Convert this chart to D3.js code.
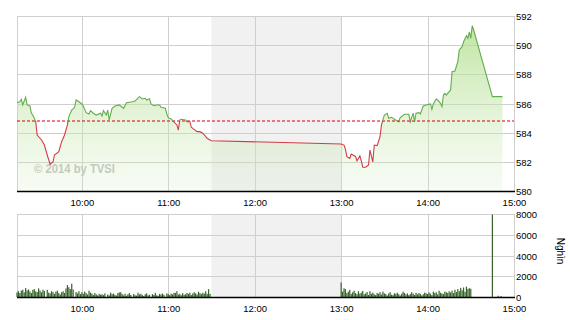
<!DOCTYPE html>
<html>
<head>
<meta charset="utf-8">
<script src="https://cdn.jsdelivr.net/npm/d3@7"></script>
<style>
  body { margin: 0; background: #fff; }
  svg text { font-family: 'Liberation Sans', Arial, sans-serif; fill: #000; }
</style>
</head>
<body>
<script>
// intraday index, 1 point per visible turn of the line
const priceTimes = ['9:15','9:17','9:18','9:19','9:21','9:22','9:24','9:25','9:26','9:28','9:29','9:32','9:34','9:36','9:38','9:40','9:41','9:44','9:46','9:48','9:50','9:51','9:53','9:55','9:56','9:58',
  '10:00','10:01','10:03','10:05','10:06','10:08','10:10','10:13','10:14','10:15','10:17','10:18','10:19','10:21','10:23','10:26','10:29','10:31','10:35','10:37','10:38','10:40','10:42','10:44','10:45','10:47','10:48','10:50','10:52','10:54','10:55','10:58','10:59',
  '11:00','11:02','11:03','11:06','11:07','11:08','11:09','11:12','11:13','11:15','11:16','11:17','11:20','11:22','11:24','11:27','11:29','11:30',
  '13:00','13:02','13:03','13:04','13:06','13:07','13:10','13:11','13:13','13:14','13:15','13:17','13:19','13:20','13:22','13:23','13:25','13:27','13:28','13:30','13:32','13:33','13:35','13:37','13:40','13:41','13:44','13:47','13:48','13:50','13:51','13:52','13:54','13:55','13:57','13:59',
  '14:02','14:03','14:04','14:06','14:07','14:09','14:10','14:11','14:12','14:13','14:16','14:17','14:19','14:21','14:22','14:24','14:25','14:27','14:28','14:29','14:30','14:31','14:32','14:45','14:52']
const priceValues = [586.05,586.12,586.29,585.9,586.43,585.9,585.83,585.33,585.21,584.75,583.84,583.5,583.15,582.47,581.83,582.0,582.47,582.7,583.38,583.84,584.53,585.1,585.55,585.74,586.24,586.12,
  585.97,585.83,585.37,585.28,585.51,585.33,585.21,585.33,585.14,585.51,585.21,585.55,584.87,585.67,585.83,585.9,585.67,586.05,586.12,586.17,586.29,586.47,586.31,586.36,586.24,586.33,585.97,585.85,585.9,585.9,585.74,585.67,585.28,
  585.03,584.94,584.82,584.53,584.18,584.87,584.92,584.87,584.75,584.75,584.37,584.29,584.07,584.07,583.96,583.61,583.5,583.45,
  583.22,583.15,582.86,582.35,582.24,582.54,582.37,582.06,582.4,582.06,581.63,581.63,581.78,582.81,581.99,583.15,583.11,583.72,584.53,585.21,585.33,584.98,585.05,584.92,584.75,585.03,585.26,585.26,584.75,585.33,584.75,585.33,585.37,585.28,585.83,585.9,
  585.97,585.6,585.97,586.31,586.24,586.01,585.78,586.58,586.7,586.58,586.93,588.18,588.23,588.87,589.67,589.9,590.24,590.65,590.47,590.92,590.47,591.33,591.04,586.47,586.47]
const refPrice = 584.8
const priceTicks = [580, 582, 584, 586, 588, 590, 592]

const hourTicks = ['10:00', '11:00', '12:00', '13:00', '14:00', '15:00']
const sessionStart = '9:15'
const sessionEnd = '15:00'
const lunchStart = '11:30'
const lunchEnd = '13:00'

// volume, one bar per minute (thousand shares)
const volMorningStart = '9:15'
const volMorning = [420,560,380,610,700,450,860,640,720,530,380,690,760,540,480,
  830,620,450,710,580,0,690,420,350,560,470,300,520,610,380,
  250,470,560,390,820,1150,940,760,1280,720,0,480,350,560,280,
  460,310,520,380,240,600,420,330,190,380,260,150,310,220,270,
  180,350,0,240,160,420,280,330,210,140,380,440,460,290,150,
  320,120,260,380,200,0,290,170,140,420,250,310,180,100,260,
  350,150,220,0,280,190,400,160,120,300,240,330,210,0,340,
  280,180,330,250,410,390,560,240,310,180,370,220,260,390,300,
  420,190,330,460,350,240,510,380,280,420,330,560,300,750,300]
const volAfternoonStart = '13:00'
const volAfternoon = [1400,520,840,760,380,520,690,300,450,610,380,270,560,330,420,
  590,260,340,480,200,550,310,420,260,180,390,300,470,240,520,
  350,280,140,330,460,220,180,370,300,420,260,150,320,510,390,
  240,350,180,280,460,330,200,410,260,380,300,150,270,420,360,
  290,440,330,180,520,380,460,250,600,410,340,280,520,460,390,
  550,430,620,380,700,480,760,560,880,640,920,500,1000,780,840,800]
const volLateTimes = ['14:45', '14:49', '14:51']
const volLate = [7950, 120, 100]
const volTicks = [0, 2000, 4000, 6000, 8000]
const volUnit = 'Nghìn'
const watermark = '© 2014 by TVSI'

class IntradayChart {

  initialize() {
    const parse = d3.timeParse('%H:%M')

    this.left = 17
    this.right = 514
    this.top = { y0: 16, y1: 191 }
    this.bottom = { y0: 214, y1: 297 }

    const prices = priceTimes.map((t, i) => ({ time: parse(t), value: priceValues[i] }))

    const minutes = (start, list) => list.map((v, i) => ({ time: d3.timeMinute.offset(parse(start), i), value: v }))
    const volumes = minutes(volMorningStart, volMorning)
      .concat(minutes(volAfternoonStart, volAfternoon))
      .concat(volLateTimes.map((t, i) => ({ time: parse(t), value: volLate[i] })))

    this.x = d3.scaleTime()
      .domain([parse(sessionStart), parse(sessionEnd)])
      .range([this.left, this.right])

    this.yP = d3.scaleLinear()
      .domain(d3.extent(priceTicks))
      .range([this.top.y1, this.top.y0])

    this.yV = d3.scaleLinear()
      .domain(d3.extent(volTicks))
      .range([this.bottom.y1, this.bottom.y0])

    const svg = d3.select('body')
      .append('svg')
      .attr('width', 570)
      .attr('height', 320)

    const defs = svg.append('defs')
    const grad = defs.append('linearGradient')
      .attr('id', 'fillGrad')
      .attr('gradientUnits', 'userSpaceOnUse')
      .attr('x1', 0).attr('x2', 0)
      .attr('y1', this.top.y0).attr('y2', this.top.y1)
    grad.append('stop').attr('offset', 0).attr('stop-color', 'rgb(172,220,132)').attr('stop-opacity', 0.8)
    grad.append('stop').attr('offset', 1).attr('stop-color', 'rgb(215,238,200)').attr('stop-opacity', 0.2)

    const refY = this.yP(refPrice)
    defs.append('clipPath').attr('id', 'clipUp')
      .append('rect')
      .attr('x', this.left).attr('width', this.right - this.left)
      .attr('y', 0).attr('height', refY)
    defs.append('clipPath').attr('id', 'clipDown')
      .append('rect')
      .attr('x', this.left).attr('width', this.right - this.left)
      .attr('y', refY).attr('height', 320 - refY)

    const px = v => Math.round(v) + 0.5

    // lunch break shading in both panels
    const lx0 = this.x(parse(lunchStart)), lx1 = this.x(parse(lunchEnd))
    ;[this.top, this.bottom].forEach(p => {
      svg.append('rect')
        .attr('x', lx0).attr('y', p.y0)
        .attr('width', lx1 - lx0).attr('height', p.y1 - p.y0)
        .style('fill', '#f1f1f1')
    })

    // grids
    const hours = hourTicks.map(parse)
    const grid = svg.append('g').style('stroke', '#cfcfcf').style('stroke-width', 1)
    ;[this.top, this.bottom].forEach(p => {
      grid.selectAll(null)
        .data([parse(sessionStart)].concat(hours))
        .enter().append('line')
        .attr('x1', d => px(this.x(d))).attr('x2', d => px(this.x(d)))
        .attr('y1', p.y0).attr('y2', p.y1)
    })
    grid.selectAll(null)
      .data(priceTicks.slice(1))
      .enter().append('line')
      .attr('x1', this.left).attr('x2', this.right + 1)
      .attr('y1', d => px(this.yP(d))).attr('y2', d => px(this.yP(d)))
    grid.selectAll(null)
      .data(volTicks.slice(1))
      .enter().append('line')
      .attr('x1', this.left).attr('x2', this.right + 1)
      .attr('y1', d => px(this.yV(d))).attr('y2', d => px(this.yV(d)))

    svg.append('text')
      .attr('x', 34)
      .attr('y', 168)
      .attr('dy', '0.35em')
      .attr('textLength', 81)
      .attr('lengthAdjust', 'spacingAndGlyphs')
      .style('font-size', '13px')
      .style('font-weight', 'bold')
      .style('fill', '#bdbdbd')
      .text(watermark)

    // price area + line
    const area = d3.area()
      .x(d => this.x(d.time))
      .y0(this.top.y1)
      .y1(d => this.yP(d.value))
    svg.append('path')
      .datum(prices)
      .attr('d', area)
      .style('fill', 'url(#fillGrad)')

    svg.append('line')
      .attr('x1', this.left).attr('x2', this.right)
      .attr('y1', refY).attr('y2', refY)
      .style('stroke', '#d40000')
      .style('stroke-width', 1)
      .style('stroke-dasharray', '3,2')

    const line = d3.line()
      .x(d => this.x(d.time))
      .y(d => this.yP(d.value))
    svg.append('path')
      .datum(prices)
      .attr('d', line)
      .attr('clip-path', 'url(#clipUp)')
      .style('fill', 'none')
      .style('stroke', '#62ad4e')
      .style('stroke-width', 1.1)
    svg.append('path')
      .datum(prices)
      .attr('d', line)
      .attr('clip-path', 'url(#clipDown)')
      .style('fill', 'none')
      .style('stroke', '#d23c48')
      .style('stroke-width', 1.1)

    // volume bars
    svg.append('g').selectAll('rect')
      .data(volumes.filter(d => d.value > 0))
      .enter().append('rect')
      .attr('x', d => this.x(d.time) - 0.6)
      .attr('width', 1.2)
      .attr('y', d => this.yV(d.value))
      .attr('height', d => this.bottom.y1 - this.yV(d.value))
      .style('fill', '#36632a')

    // base lines
    ;[this.top, this.bottom].forEach(p => {
      svg.append('line')
        .attr('x1', this.left).attr('x2', this.right + 1)
        .attr('y1', p.y1 + 0.5).attr('y2', p.y1 + 0.5)
        .style('stroke', '#000')
        .style('stroke-width', 1.4)
    })

    // labels
    const fs = '9.5px'
    ;[[this.top.y1 + 11.5], [this.bottom.y1 + 11.5]].forEach(([ly]) => {
      const ax = svg.append('g')
        .attr('transform', `translate(0, ${ly})`)
        .call(d3.axisBottom(this.x).tickValues(hours).tickFormat(d3.timeFormat('%H:%M')).tickSize(0).tickPadding(0))
      ax.select('.domain').remove()
      ax.selectAll('text').attr('y', 0).attr('dy', '0.35em').style('font-size', fs).attr('font-family', null)
    })

    const ayP = svg.append('g')
      .attr('transform', `translate(${this.right + 2}, 0.5)`)
      .call(d3.axisRight(this.yP).tickValues(priceTicks).tickSize(0).tickPadding(0))
    ayP.select('.domain').remove()
    ayP.selectAll('text').style('font-size', fs).attr('font-family', null)

    const ayV = svg.append('g')
      .attr('transform', `translate(${this.right + 2}, 0.5)`)
      .call(d3.axisRight(this.yV).tickValues(volTicks).tickFormat(d3.format('d')).tickSize(0).tickPadding(0))
    ayV.select('.domain').remove()
    ayV.selectAll('text').style('font-size', fs).attr('font-family', null)

    svg.append('text')
      .attr('transform', `translate(560, 251) rotate(90)`)
      .attr('text-anchor', 'middle')
      .attr('dy', '0.35em')
      .style('font-size', '10px')
      .text(volUnit)
  }

}

(new IntradayChart()).initialize()
</script>
</body>
</html>
